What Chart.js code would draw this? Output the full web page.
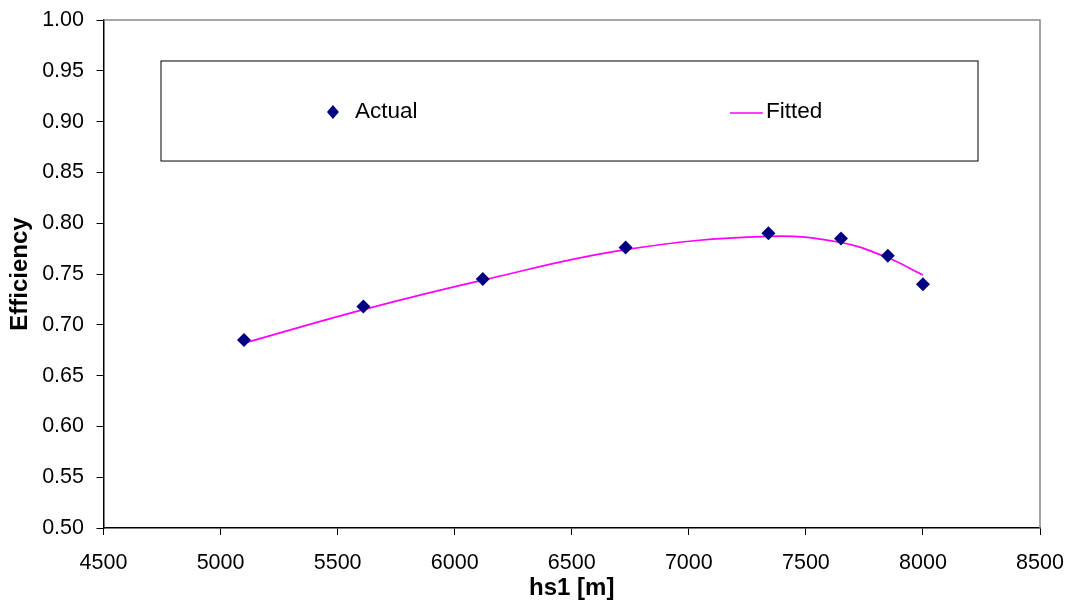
<!DOCTYPE html>
<html>
<head>
<meta charset="utf-8">
<script src="https://cdn.jsdelivr.net/npm/chart.js@4"></script>
<style>
  body { margin: 0; background: #fff; }
  #wrap { width: 1074px; height: 609px; }
</style>
</head>
<body>
<div id="wrap"><canvas id="eff-chart"></canvas></div>
<script>
const hs1 = [5100, 5610, 6120, 6730, 7340, 7650, 7850, 8000];
const actual = [0.685, 0.718, 0.745, 0.776, 0.790, 0.785, 0.768, 0.740];
const fitted = [0.682, 0.715, 0.744, 0.774, 0.787, 0.781, 0.766, 0.749];
const seriesNames = ['Actual', 'Fitted'];

const FONT = 'Liberation Sans, Arial, sans-serif';

// fixed axis sizes, no extra room for edge labels
const fixSize = (w, h) => s => {
  if (w) s.width = w;
  if (h) s.height = h;
  s.paddingTop = s.paddingBottom = s.paddingLeft = s.paddingRight = 0;
};

// legend sits inside the plot area, Excel style
const boxLegend = {
  id: 'boxLegend',
  afterDraw(chart) {
    const { ctx, chartArea: a } = chart;
    const w = a.right - a.left, h = a.bottom - a.top;
    const px = f => a.left + f * w;
    const py = f => a.top + f * h;

    ctx.save();
    // gray frame on top and right
    ctx.strokeStyle = '#888';
    ctx.lineWidth = 1.5;
    ctx.beginPath();
    ctx.moveTo(a.left, a.top);
    ctx.lineTo(a.right, a.top);
    ctx.lineTo(a.right, a.bottom);
    ctx.stroke();

    const x0 = px(0.0614), x1 = px(0.9338), y0 = py(0.0807), y1 = py(0.2776);
    ctx.fillStyle = '#fff';
    ctx.fillRect(x0, y0, x1 - x0, y1 - y0);
    ctx.strokeStyle = '#000';
    ctx.lineWidth = 1;
    ctx.strokeRect(x0, y0, x1 - x0, y1 - y0);

    const iy = py(0.181);
    // Actual: diamond
    const dx = px(0.245);
    ctx.fillStyle = '#000080';
    ctx.beginPath();
    ctx.moveTo(dx - 6, iy);
    ctx.lineTo(dx, iy - 7);
    ctx.lineTo(dx + 6, iy);
    ctx.lineTo(dx, iy + 7);
    ctx.closePath();
    ctx.fill();
    // Fitted: line
    ctx.strokeStyle = '#ff00ff';
    ctx.lineWidth = 1.5;
    ctx.beginPath();
    ctx.moveTo(px(0.669), iy + 1);
    ctx.lineTo(px(0.704), iy + 1);
    ctx.stroke();

    ctx.fillStyle = '#000';
    ctx.font = '22.5px ' + FONT;
    ctx.textBaseline = 'middle';
    ctx.textAlign = 'left';
    ctx.fillText(seriesNames[0], px(0.2685), iy);
    ctx.fillText(seriesNames[1], px(0.7074), iy);
    ctx.restore();
  }
};

new Chart(document.getElementById('eff-chart'), {
  type: 'scatter',
  data: {
    datasets: [
      {
        label: seriesNames[0],
        data: hs1.map((x, i) => ({ x, y: actual[i] })),
        pointStyle: 'rectRot',
        pointRadius: 7,
        pointBackgroundColor: '#000080',
        pointBorderColor: '#000080',
        pointBorderWidth: 0,
        showLine: false,
        order: 0
      },
      {
        label: seriesNames[1],
        data: hs1.map((x, i) => ({ x, y: fitted[i] })),
        showLine: true,
        borderColor: '#ff00ff',
        borderWidth: 1.7,
        pointRadius: 0,
        tension: 0.4,
        order: 1
      }
    ]
  },
  options: {
    responsive: true,
    maintainAspectRatio: false,
    animation: false,
    layout: { padding: { left: 0, top: 20, right: 34, bottom: 0 } },
    plugins: {
      legend: { display: false },
      tooltip: { enabled: false }
    },
    scales: {
      x: {
        type: 'linear',
        min: 4500,
        max: 8500,
        afterFit: fixSize(0, 81),
        ticks: {
          stepSize: 500,
          color: '#000',
          padding: 15,
          font: { family: FONT, size: 21.5 },
          callback: v => String(v)
        },
        grid: { drawOnChartArea: false, drawTicks: true, tickLength: 7, tickColor: '#000' },
        border: { display: true, color: '#000', width: 1.5 },
        title: {
          display: true,
          text: 'hs1 [m]',
          color: '#000',
          padding: { top: 0, bottom: 6 },
          font: { family: FONT, size: 24, weight: 'bold' }
        }
      },
      y: {
        min: 0.5,
        max: 1.0,
        afterFit: fixSize(103.5, 0),
        ticks: {
          stepSize: 0.05,
          color: '#000',
          padding: 12.5,
          font: { family: FONT, size: 21.5 },
          callback: v => v.toFixed(2)
        },
        grid: { drawOnChartArea: false, drawTicks: true, tickLength: 7, tickColor: '#000' },
        border: { display: true, color: '#000', width: 1.5 },
        title: {
          display: true,
          text: 'Efficiency',
          color: '#000',
          padding: { top: 5.5, bottom: 0 },
          font: { family: FONT, size: 24, weight: 'bold' }
        }
      }
    }
  },
  plugins: [boxLegend]
});
</script>
</body>
</html>
